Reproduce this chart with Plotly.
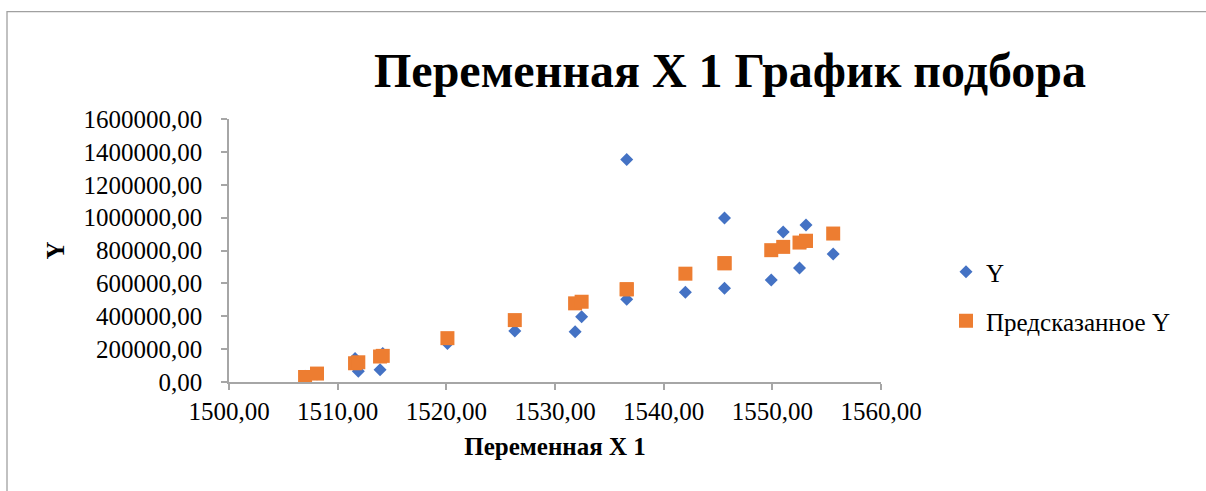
import plotly.graph_objects as go

# ---- data ----
x_var = [1507.0, 1508.1, 1511.6, 1511.9, 1513.9, 1514.15, 1520.1, 1526.3, 1531.85, 1532.45,
         1536.6, 1536.6, 1542.0, 1545.6, 1545.6, 1549.9, 1551.0, 1552.5, 1553.1, 1553.1, 1555.6]
y_actual = [35000, 48000, 143000, 65000, 75000, 173000, 234000, 311000, 305000, 397000,
            1353000, 503000, 546000, 997000, 570000, 621000, 912000, 694000, 955000, 851000, 778000]
y_pred = [30500, 51300, 114000, 120000, 155000, 159000, 266700, 376600, 478500, 488300,
          564000, 564000, 659000, 722600, 722600, 802000, 822000, 848300, 858700, 858700, 903200]

x_ticks = [1500, 1510, 1520, 1530, 1540, 1550, 1560]
y_ticks = [0, 200000, 400000, 600000, 800000, 1000000, 1200000, 1400000, 1600000]
x_ticktext = [f"{v:.2f}".replace(".", ",") for v in x_ticks]
y_ticktext = [f"{v:.2f}".replace(".", ",") for v in y_ticks]

FONT = "Liberation Serif"
AXIS_GRAY = "#A6A6A6"

fig = go.Figure()
fig.add_trace(go.Scatter(
    x=x_var, y=y_actual, mode="markers", name="Y",
    marker=dict(symbol="diamond", size=10, color="#4472C4"),
    legend="legend", showlegend=True,
))
fig.add_trace(go.Scatter(
    x=x_var, y=y_pred, mode="markers", name="Предсказанное Y",
    marker=dict(symbol="square", size=14, color="#ED7D31"),
    legend="legend2", showlegend=True,
))

W, H = 1206, 491
L, R, T, B = 229, 325, 119, 109
pw, ph = W - L - R, H - T - B

def px_x(p):
    return (p - L) / pw

def px_y(p):
    return (H - B - p) / ph

fig.update_layout(
    width=W, height=H,
    showlegend=True,
    margin=dict(l=L, r=R, t=T, b=B),
    paper_bgcolor="white", plot_bgcolor="white",
    font=dict(family=FONT, color="black", size=25),
    title=dict(
        text="<b>Переменная X 1 График подбора</b>",
        font=dict(family=FONT, size=48, color="black"),
        x=730 / W, xanchor="center", xref="container",
        y=1 - 70 / H, yanchor="middle", yref="container",
    ),
    xaxis=dict(
        range=[1500, 1560], tickvals=x_ticks, ticktext=x_ticktext,
        showgrid=False, zeroline=False,
        showline=True, linecolor=AXIS_GRAY, linewidth=1.5,
        ticks="outside", ticklen=6, tickcolor=AXIS_GRAY, tickwidth=1.5,
        tickfont=dict(family=FONT, size=25, color="black"),
        title=dict(text="<b>Переменная X 1</b>", font=dict(family=FONT, size=25, color="black"), standoff=14),
    ),
    yaxis=dict(
        range=[0, 1600000], tickvals=y_ticks, ticktext=y_ticktext,
        showgrid=False, zeroline=False,
        showline=True, linecolor=AXIS_GRAY, linewidth=1.5,
        ticks="outside", ticklen=6, tickcolor=AXIS_GRAY, tickwidth=1.5,
        tickfont=dict(family=FONT, size=25, color="black"),
        ticklabelstandoff=14,
        title=dict(text="<b>Y</b>", font=dict(family=FONT, size=25, color="black"), standoff=12),
    ),
    legend=dict(
        x=px_x(946), xanchor="left", y=px_y(272), yanchor="middle",
        font=dict(family=FONT, size=25, color="black"), bgcolor="rgba(0,0,0,0)",
        visible=True,
    ),
    legend2=dict(
        x=px_x(946), xanchor="left", y=px_y(321), yanchor="middle",
        font=dict(family=FONT, size=25, color="black"), bgcolor="rgba(0,0,0,0)",
        visible=True,
    ),
    shapes=[dict(
        type="rect", xref="paper", yref="paper",
        x0=px_x(7), x1=px_x(1212), y0=px_y(520), y1=px_y(11.7),
        line=dict(color="#A0A0A0", width=1.3), fillcolor="rgba(0,0,0,0)", layer="below",
    )],
)

fig.write_html("out.html")
